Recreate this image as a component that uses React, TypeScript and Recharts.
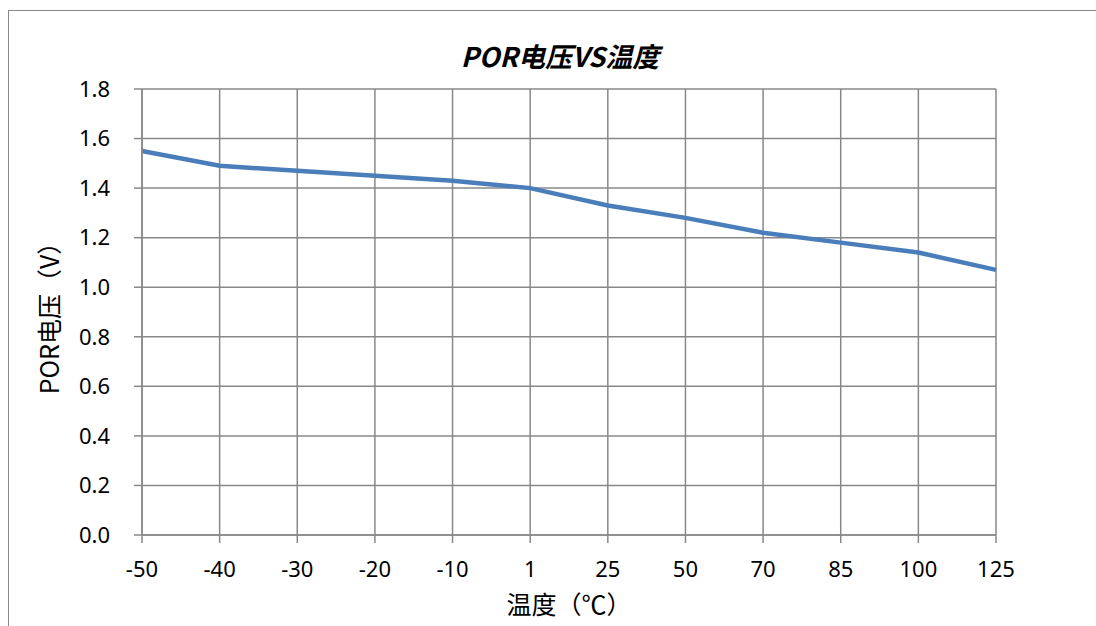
import { CartesianGrid, Line, LineChart, XAxis, YAxis } from 'recharts';

// 温度点（类目轴，等间距）
const temps = ['-50', '-40', '-30', '-20', '-10', '1', '25', '50', '70', '85', '100', '125'];
// POR 电压 (V)
const porVoltage = [1.55, 1.49, 1.47, 1.45, 1.43, 1.40, 1.33, 1.28, 1.22, 1.18, 1.14, 1.07];
const yTicks = [0, 0.2, 0.4, 0.6, 0.8, 1.0, 1.2, 1.4, 1.6, 1.8];

const FONT = '"Noto Sans", "Noto Sans CJK SC", sans-serif';
const CJK = '"Noto Sans CJK SC", "Noto Sans", sans-serif';
const GRID = '#888888';
const LINE = '#4a7ebb';

const data = temps.map((t, i) => ({ temp: t, v: porVoltage[i] }));

export default function App() {
    return (
        <div
            style={{
                position: 'fixed', left: 0, top: 0, width: 1096, height: 626,
                overflow: 'hidden', background: '#fff', fontFamily: FONT,
            }}
        >
            {/* 外框 */}
            <div
                style={{
                    position: 'absolute', left: 8, top: 10, width: 1200, height: 800,
                    border: `1.5px solid ${GRID}`, boxSizing: 'border-box',
                }}
            />
            <div
                style={{
                    position: 'absolute', left: 0, top: 38, width: 1120, textAlign: 'center',
                    fontFamily: CJK, fontSize: 27, lineHeight: '36px', fontWeight: 700,
                    fontStyle: 'italic', color: '#000',
                }}
            >
                POR电压VS温度
            </div>

            <div style={{ position: 'absolute', left: 0, top: 0 }}>
                <LineChart
                    width={1096}
                    height={626}
                    data={data}
                    margin={{ top: 89, right: 100, left: 0, bottom: 0 }}
                    style={{ fontFamily: FONT }}
                >
                    <CartesianGrid stroke={GRID} strokeWidth={1.5} />
                    <XAxis
                        dataKey="temp"
                        height={91}
                        tickSize={8}
                        tickMargin={18}
                        stroke={GRID}
                        strokeWidth={1.5}
                        interval={0}
                        tick={{ fontSize: 22, fill: '#000' }}
                        label={{
                            value: '温度（℃）',
                            position: 'insideBottom',
                            offset: 12,
                            style: { fontSize: 25, fill: '#000', fontFamily: CJK },
                        }}
                    />
                    <YAxis
                        width={142}
                        domain={[0, 1.8]}
                        ticks={yTicks}
                        tickFormatter={(v) => Number(v).toFixed(1)}
                        tickSize={8}
                        tickMargin={24}
                        stroke={GRID}
                        strokeWidth={1.5}
                        tick={{ fontSize: 22, fill: '#000' }}
                        label={{
                            value: 'POR电压（V）',
                            angle: -90,
                            position: 'insideLeft',
                            offset: 50,
                            style: { fontSize: 25, fill: '#000', fontFamily: CJK, textAnchor: 'middle' },
                        }}
                    />
                    <Line
                        dataKey="v"
                        type="linear"
                        stroke={LINE}
                        strokeWidth={4.5}
                        dot={false}
                        activeDot={false}
                        isAnimationActive={false}
                    />
                </LineChart>
            </div>
        </div>
    );
}
